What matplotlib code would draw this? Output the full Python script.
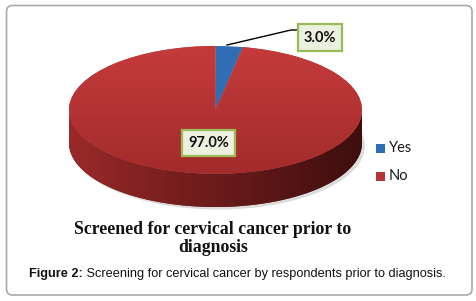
import numpy as np
import matplotlib
matplotlib.use("Agg")
import matplotlib.pyplot as plt
from matplotlib.patches import FancyBboxPatch, Rectangle, PathPatch, Ellipse
from matplotlib.path import Path
from matplotlib.colors import LinearSegmentedColormap

# ── data ─────────────────────────────────────────────────────────────────────
labels = ["Yes", "No"]
values = [3.0, 97.0]
pct_labels = ["3.0%", "97.0%"]
top_colors = ["#2f6eb5", "#b83434"]

TITLE = ["Screened for cervical cancer prior to", "diagnosis"]
CAP_BOLD = "Figure 2:"
CAP_REST = " Screening for cervical cancer by respondents prior to diagnosis."

W, H = 477, 301
DEPTH = 0.52  # thickness of the 3D pie, in units of the vertical radius

fig = plt.figure(figsize=(W / 100, H / 100), dpi=100)

# background axes in pixel coordinates (frame box)
bg = fig.add_axes([0, 0, 1, 1], zorder=0)
bg.set_xlim(0, W)
bg.set_ylim(H, 0)
bg.axis("off")
bg.add_patch(FancyBboxPatch((6.5, 5.5), 465.5, 289.5,
                            boxstyle="round,pad=0,rounding_size=6",
                            fc="white", ec="#a9a9a9", lw=1.2))

# ── pie axes (aspect not equal -> elliptical top face) ───────────────────────
pax = fig.add_axes([69 / W, (H - 207) / H, 293 / W, 161 / H], zorder=1)
pax.patch.set_visible(False)

# soft shadow under the disc
pax.add_patch(Ellipse((0.02, -DEPTH - 0.04), 2.0, 2.0, fc="#dcdcdc",
                      ec="none", zorder=0.2, clip_on=False))

# side wall of the disc, shaded left -> right
t = np.linspace(np.pi, 2 * np.pi, 200)
side_xy = np.concatenate([np.c_[np.cos(t), np.sin(t)],
                          np.c_[np.cos(t[::-1]), np.sin(t[::-1]) - DEPTH]])
side_patch = PathPatch(Path(np.vstack([side_xy, side_xy[:1]]), closed=True),
                       fc="#6a1a1a", ec="none", zorder=0.5)
pax.add_patch(side_patch)
side_cmap = LinearSegmentedColormap.from_list(
    "side", ["#9a2929", "#7a1f1f", "#5c1717", "#3e0e0e"])
grad = np.tile(np.linspace(0, 1, 256), (16, 1))
im = pax.imshow(grad, cmap=side_cmap, extent=(-1, 1, -1 - DEPTH, 0),
                aspect="auto", interpolation="bicubic", zorder=0.6)
im.set_clip_path(side_patch)

# top face
wedges, _ = pax.pie(values, colors=top_colors, startangle=90,
                    counterclock=False, radius=1,
                    wedgeprops=dict(linewidth=0, zorder=2))
top_cmap = LinearSegmentedColormap.from_list("top", ["#a32b2b", "#c53b3c"])
vgrad = np.linspace(0, 1, 256).reshape(-1, 1)
im2 = pax.imshow(vgrad, cmap=top_cmap, extent=(-1, 1, -1, 1), origin="lower",
                 aspect="auto", interpolation="bicubic", zorder=2.5)
im2.set_clip_path(wedges[1])

pax.set_aspect("auto")
pax.set_xlim(-1, 1)
pax.set_ylim(-1 - DEPTH, 1)
pax.axis("off")

# ── overlay axes for labels, legend, title ───────────────────────────────────
fg = fig.add_axes([0, 0, 1, 1], zorder=3)
fg.set_xlim(0, W)
fg.set_ylim(H, 0)
fg.axis("off")

box = dict(boxstyle="square,pad=0.42", fc="#ebf1de", ec="#9bbb59", lw=1.6)
fg.plot([227, 291, 298], [45, 30, 30], color="black", lw=1)
for pos, txt in zip([(320, 37.5), (208.5, 143)], pct_labels):
    fg.text(pos[0], pos[1], txt, ha="center", va="center", fontsize=10.5,
            family="Lato", weight="bold", color="#111111", bbox=box)

# legend
for i, (lab, col) in enumerate(zip(labels, top_colors)):
    y = 148 + i * 28.5
    fg.add_patch(Rectangle((376, y - 4.5), 9, 9, fc=col, ec="none"))
    fg.text(389, y, lab, ha="left", va="center", fontsize=10.5,
            family="Lato", color="#1a1a1a")

# title
for y, line in zip([229, 247], TITLE):
    fg.text(213, y, line, ha="center", va="center", fontsize=12.8,
            family="Liberation Serif", weight="bold", color="#111111")

# caption
t1 = fg.text(29, 274, CAP_BOLD, ha="left", va="center", fontsize=9.2,
             family="Liberation Sans", weight="bold", color="#111111")
fg.annotate(CAP_REST, xy=(1, 0), xycoords=t1, ha="left", va="bottom",
            fontsize=9.2, family="Liberation Sans", color="#111111")

fig.savefig("out.png", dpi=100)
